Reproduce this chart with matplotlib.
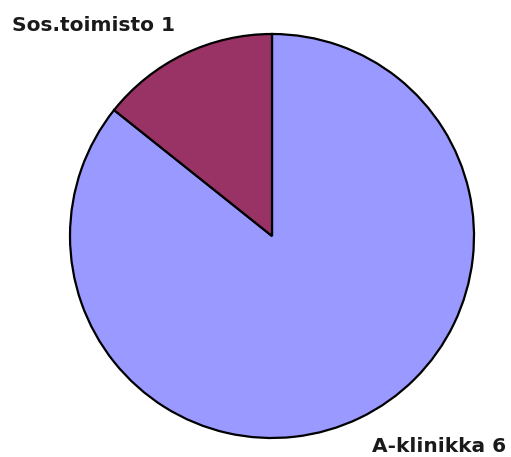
import matplotlib

matplotlib.use("Agg")

import matplotlib.pyplot as plt

labels = ["A-klinikka 6", "Sos.toimisto 1"]
values = [6, 1]
colors = ["#9999ff", "#993366"]

W, H = 511, 457
fig = plt.figure(figsize=(W / 100, H / 100), dpi=100)
fig.patch.set_facecolor("white")

# pie centre at (272, 236) px, radius 202 px
cx, cy, r = 272, 236, 202
ax = fig.add_axes([(cx - r) / W, (H - cy - r) / H, 2 * r / W, 2 * r / H])
ax.pie(
    values,
    colors=colors,
    startangle=90,
    counterclock=False,
    radius=1.0,
    wedgeprops={"edgecolor": "black", "linewidth": 1.6},
)
ax.set_xlim(-1, 1)
ax.set_ylim(-1, 1)
ax.set_aspect("equal")
ax.axis("off")

text_kw = dict(fontsize=14.5, fontweight="bold", color="#1a1a1a", va="baseline")
fig.text(12 / W, 1 - 31 / H, labels[1], ha="left", **text_kw)
fig.text(372 / W, 1 - 452 / H, labels[0], ha="left", **text_kw)

fig.savefig("out.png", dpi=100, facecolor=fig.get_facecolor())
